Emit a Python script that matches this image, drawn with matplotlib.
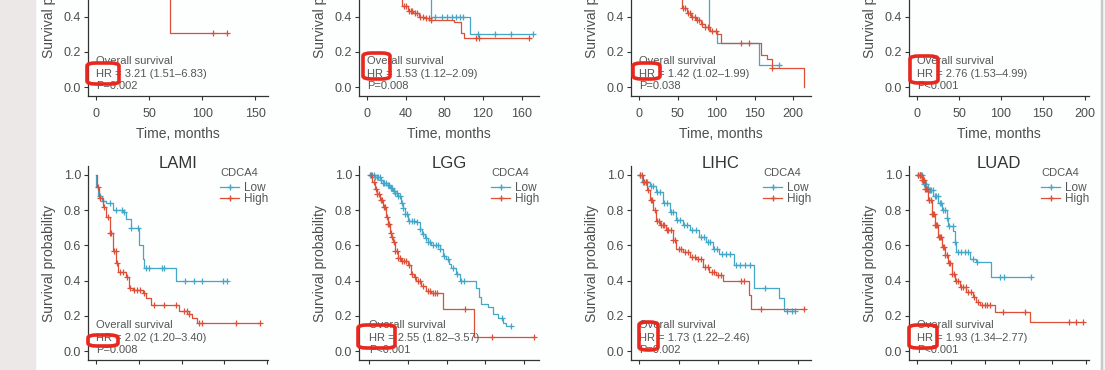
import numpy as np
import matplotlib
matplotlib.use("Agg")
import matplotlib.pyplot as plt
from matplotlib.patches import FancyBboxPatch, Rectangle

plt.rcParams['font.family'] = ['Liberation Sans', 'DejaVu Sans']

# ---- data (months, survival probability) ----
top1_low_t = [0, 20, 45]
top1_low_s = [1.0, 0.85, 0.7]
top1_low_end = 150
top1_low_cens = [60, 90, 150]
top1_high_t = [0, 8, 15, 25, 35, 50, 70]
top1_high_s = [1.0, 0.9, 0.8, 0.7, 0.62, 0.55, 0.31]
top1_high_end = 123
top1_high_cens = [110, 123]

top2_low_t = [0, 15, 30, 45, 60, 66, 107]
top2_low_s = [1.0, 0.9, 0.8, 0.7, 0.6, 0.40, 0.30]
top2_low_end = 172
top2_low_cens = [70, 78, 83, 88, 92, 96, 99, 115, 132, 149, 172]
top2_high_t = [0, 10, 20, 30, 36, 42, 48, 54, 60, 66, 90, 97, 100]
top2_high_s = [1.0, 0.85, 0.7, 0.55, 0.46, 0.43, 0.42, 0.40, 0.39, 0.38, 0.37, 0.305, 0.28]
top2_high_end = 170
top2_high_cens = [32, 35, 38, 40, 43, 45, 47, 50, 52, 55, 58, 61, 64, 66, 113, 116, 168]

top3_low_t = [0, 20, 40, 60, 80, 91, 101, 156]
top3_low_s = [1.0, 0.9, 0.8, 0.7, 0.6, 0.32, 0.25, 0.125]
top3_low_end = 184
top3_low_cens = [181]
top3_high_t = [0, 15, 30, 45, 56, 62, 68, 74, 80, 86, 92, 101, 106, 158, 166, 173, 214]
top3_high_s = [1.0, 0.85, 0.7, 0.55, 0.45, 0.42, 0.40, 0.38, 0.36, 0.34, 0.32, 0.30, 0.25, 0.18, 0.16, 0.11, 0.0]
top3_high_end = 214
top3_high_cens = [57, 60, 63, 66, 69, 72, 75, 78, 82, 86, 90, 95, 100, 132, 142, 173]

top4_low_t = [0, 30, 80]
top4_low_s = [1.0, 0.9, 0.8]
top4_low_end = 195
top4_low_cens = [100, 150, 195]
top4_high_t = [0, 10, 20, 30, 45]
top4_high_s = [1.0, 0.85, 0.7, 0.6, 0.55]
top4_high_end = 110
top4_high_cens = [40, 80, 110]

lami_low_t = [0, 0.3, 1.5, 3.3, 6.2, 10, 15.8, 17.7, 20.6, 25.4, 27.3, 28.3, 46.5]
lami_low_s = [1.0, 0.93, 0.88, 0.85, 0.84, 0.80, 0.79, 0.75, 0.70, 0.60, 0.52, 0.47, 0.40]
lami_low_end = 76.3
lami_low_cens = [2.3, 4.2, 8.1, 11.9, 15.4, 16.7, 20.6, 24.4, 29.2, 31.2, 38.8, 39.8,
                 52.3, 57.1, 61.9, 74.4, 76.3]
lami_high_t = [0, 0.5, 1.7, 4, 6.2, 8.1, 10, 11.9, 12.9, 17.7, 19.6, 21.5, 27.3, 29.2,
               32.1, 48.5, 54.2, 56.2, 59]
lami_high_s = [1.0, 0.93, 0.87, 0.82, 0.76, 0.67, 0.57, 0.50, 0.45, 0.42, 0.36, 0.345,
               0.33, 0.30, 0.26, 0.23, 0.21, 0.19, 0.16]
lami_high_end = 95.6
lami_high_cens = [1, 2.5, 5, 7, 8.5, 9, 10.5, 11.5, 12.5, 14, 16, 18, 20, 22, 24, 26, 28,
                  34, 39.8, 46.5, 51.3, 53.3, 54.2, 60, 62, 82, 95.6]

lgg_low_t = [0, 8, 14.1, 18, 22.6, 27, 31.2, 34, 37.6, 41.9, 44, 46.2, 50.4, 61.1, 65.4,
             68, 71.8, 76, 80.3, 91, 95.3, 99.6, 103, 106, 112.4, 116.7, 138, 142.3,
             144.4, 153, 159.4, 165.8, 172.2, 176.5]
lgg_low_s = [1.0, 0.985, 0.97, 0.955, 0.94, 0.925, 0.91, 0.895, 0.88, 0.84, 0.81, 0.78,
             0.74, 0.73, 0.69, 0.665, 0.64, 0.62, 0.60, 0.58, 0.54, 0.52, 0.495, 0.47,
             0.44, 0.40, 0.36, 0.31, 0.27, 0.25, 0.21, 0.19, 0.16, 0.14]
lgg_low_end = 182.9
lgg_low_cens = [2, 4, 6, 8, 10, 12, 14, 16, 18, 20, 22, 24, 26, 28, 30, 32, 34, 36, 38, 40,
                42, 44, 47, 49, 52, 55, 58, 62, 66, 69, 73, 76, 79, 83, 86, 89, 92, 97,
                102, 108, 114, 119, 123, 171, 183]
lgg_high_t = [0, 4, 7.7, 11, 14.1, 18.4, 22.6, 24.8, 26.9, 29, 31.2, 33.3, 37.6, 41.9,
              50.4, 54.7, 58, 61.1, 67.5, 73.9, 80.3, 95.3, 135]
lgg_high_s = [1.0, 0.96, 0.92, 0.89, 0.86, 0.82, 0.76, 0.72, 0.67, 0.645, 0.62, 0.57,
              0.53, 0.51, 0.49, 0.44, 0.42, 0.40, 0.37, 0.34, 0.33, 0.24, 0.08]
lgg_high_end = 212.8
lgg_high_cens = [3, 6, 9, 11, 13, 16, 17, 20, 21, 23, 25, 26, 28, 30, 32, 34, 36, 38, 40,
                 43, 45, 48, 52, 56, 59, 63, 66, 70, 76, 79, 82, 85, 88, 124, 159, 212.8]

lihc_low_t = [0, 2, 8.25, 13.25, 18.25, 23.25, 28.25, 33.25, 38.25, 45.75, 50.75, 55.75,
              60.75, 72, 87, 105.75, 109.5]
lihc_low_s = [1.0, 0.96, 0.935, 0.90, 0.84, 0.79, 0.745, 0.715, 0.685, 0.65, 0.62, 0.58,
              0.55, 0.49, 0.36, 0.30, 0.23]
lihc_low_end = 118.25
lihc_low_cens = [1, 3, 5, 6, 9, 11, 14, 16, 19, 21, 24, 26, 29, 31, 34, 36, 40, 43, 47, 49,
                 52, 54, 57, 59, 63, 66, 69, 73, 76, 80, 84, 95, 112, 116, 118.25]
lihc_high_t = [0, 3.25, 5.75, 8.25, 10.75, 13.25, 15.75, 20.75, 25.75, 28.25, 33.25,
               38.25, 43.25, 48.25, 53.25, 58.25, 63.25, 83.25, 84.5]
lihc_high_s = [1.0, 0.96, 0.915, 0.86, 0.80, 0.74, 0.715, 0.685, 0.63, 0.58, 0.565, 0.535,
               0.52, 0.48, 0.45, 0.43, 0.40, 0.32, 0.24]
lihc_high_end = 124.5
lihc_high_cens = [1, 2, 4, 5, 7, 9, 10, 12, 14, 15, 17, 18, 19, 21, 22, 24, 26, 27, 30,
                  32, 35, 37, 40, 42, 45, 47, 50, 52, 55, 57, 60, 62, 77, 79.5, 92, 124.5]

luad_low_t = [0, 9.3, 16.7, 24, 31.4, 36.3, 43.6, 46.1, 53.4, 55.9, 58.3, 77.9, 87.7, 109.8]
luad_low_s = [1.0, 0.95, 0.915, 0.88, 0.84, 0.80, 0.755, 0.71, 0.68, 0.62, 0.565, 0.52,
              0.505, 0.42]
luad_low_end = 168.6
luad_low_cens = [2, 4, 6, 8, 10, 12, 14, 17, 19, 21, 23, 26, 28, 31, 34, 36, 38, 41, 45,
                 48, 53, 56, 60.8, 65.7, 70.6, 75.5, 83, 88, 122, 129, 168.6]
luad_high_t = [0, 6.9, 11.8, 16.7, 21.6, 26.5, 31.4, 36.3, 41.2, 46.1, 51, 55.9, 63.2, 73,
               82.8, 87.7, 92.6, 114.7, 166.2]
luad_high_s = [1.0, 0.97, 0.92, 0.86, 0.78, 0.715, 0.65, 0.59, 0.545, 0.50, 0.44, 0.40,
               0.365, 0.335, 0.31, 0.28, 0.26, 0.22, 0.165]
luad_high_end = 244.6
luad_high_cens = [2, 4, 5, 7, 9, 10, 12, 13, 15, 17, 18, 20, 22, 23, 25, 27, 28, 30, 32,
                  34, 36, 38, 40, 42, 44, 47, 49, 52, 55, 58, 61, 65, 68, 72, 76, 80, 84,
                  90, 96, 100, 104, 108, 127, 159, 225, 235, 244.6]

titles = ["", "", "", "", "LAMI", "LGG", "LIHC", "LUAD"]
hr_texts = ["HR = 3.21 (1.51\u20136.83)", "HR = 1.53 (1.12\u20132.09)",
            "HR = 1.42 (1.02\u20131.99)", "HR = 2.76 (1.53\u20134.99)",
            "HR = 2.02 (1.20\u20133.40)", "HR = 2.55 (1.82\u20133.57)",
            "HR = 1.73 (1.22\u20132.46)", "HR = 1.93 (1.34\u20132.77)"]
p_texts = ["P=0.002", "P=0.008", "P=0.038", "P<0.001",
           "P=0.008", "P<0.001", "P=0.002", "P<0.001"]
xticks = [[0, 50, 100, 150], [0, 40, 80, 120, 160], [0, 50, 100, 150, 200],
          [0, 50, 100, 150, 200], [0, 25, 50, 75, 100], [0, 50, 100, 150, 200],
          [0, 30, 60, 90, 120], [0, 50, 100, 150, 200, 250]]
xlims = [(-7.6, 162), (-8.4, 178), (-10.4, 223), (-9.6, 205),
         (-4.6, 100.5), (-12.8, 219), (-6, 130), (-11.8, 254)]

low_curves = [
    (top1_low_t, top1_low_s, top1_low_end, top1_low_cens),
    (top2_low_t, top2_low_s, top2_low_end, top2_low_cens),
    (top3_low_t, top3_low_s, top3_low_end, top3_low_cens),
    (top4_low_t, top4_low_s, top4_low_end, top4_low_cens),
    (lami_low_t, lami_low_s, lami_low_end, lami_low_cens),
    (lgg_low_t, lgg_low_s, lgg_low_end, lgg_low_cens),
    (lihc_low_t, lihc_low_s, lihc_low_end, lihc_low_cens),
    (luad_low_t, luad_low_s, luad_low_end, luad_low_cens),
]
high_curves = [
    (top1_high_t, top1_high_s, top1_high_end, top1_high_cens),
    (top2_high_t, top2_high_s, top2_high_end, top2_high_cens),
    (top3_high_t, top3_high_s, top3_high_end, top3_high_cens),
    (top4_high_t, top4_high_s, top4_high_end, top4_high_cens),
    (lami_high_t, lami_high_s, lami_high_end, lami_high_cens),
    (lgg_high_t, lgg_high_s, lgg_high_end, lgg_high_cens),
    (lihc_high_t, lihc_high_s, lihc_high_end, lihc_high_cens),
    (luad_high_t, luad_high_s, luad_high_end, luad_high_cens),
]

# red highlight boxes around "HR" (pixel boxes from the screenshot: x0, y0, x1, y1)
hr_boxes = [(87, 63, 119, 84), (363, 53, 390, 79), (633, 63, 660, 79), (910, 56, 938, 83),
            (88, 335, 118, 346), (358, 325, 395, 348), (639, 322, 658, 350),
            (909, 325, 937, 348)]

BLUE = "#45a7c8"
RED = "#dd4f37"
TXT = "#555555"
W, H = 1105, 370


def draw_km(ax, curve, color, label):
    t, s, end, cens = curve
    t = np.array(t, float)
    s = np.array(s, float)
    x = np.append(t, end)
    y = np.append(s, s[-1])
    ax.step(x, y, where="post", color=color, lw=0.9, label=label)
    c = np.array(cens, float)
    idx = np.searchsorted(t, c, side="right") - 1
    ax.plot(c, s[idx], ls="none", marker="+", ms=5, mew=0.9, color=color)


fig = plt.figure(figsize=(W / 100, H / 100), dpi=100, facecolor="#fdfefe")
fig.patches.append(Rectangle((0, 0), 35 / W, 1, transform=fig.transFigure,
                             color="#ebe8e7", zorder=0))
fig.patches.append(Rectangle((1101 / W, 0), 4 / W, 1, transform=fig.transFigure,
                             color="#f4f4f4", zorder=0))
fig.patches.append(Rectangle((1100.5 / W, 0), 1.2 / W, 1, transform=fig.transFigure,
                             color="#c8c8c8", zorder=0))

lefts = [88, 359, 631, 909]
for i in range(8):
    row = i // 4
    bottom_px = 96 if row == 0 else 360
    ax = fig.add_axes([lefts[i % 4] / W, (H - bottom_px) / H, 180 / W, 194 / H])
    ax.set_facecolor("none")
    draw_km(ax, low_curves[i], BLUE, "Low")
    draw_km(ax, high_curves[i], RED, "High")
    ax.set_xlim(*xlims[i])
    ax.set_ylim(-0.05, 1.05)
    ax.set_xticks(xticks[i])
    ax.set_yticks([0.0, 0.2, 0.4, 0.6, 0.8, 1.0])
    ax.set_yticklabels(["0.0", "0.2", "0.4", "0.6", "0.8", "1.0"])
    for side in ["top", "right"]:
        ax.spines[side].set_visible(False)
    for side in ["left", "bottom"]:
        ax.spines[side].set_color("#333333")
        ax.spines[side].set_linewidth(0.9)
    ax.tick_params(direction="out", length=3, width=0.8, colors="#333333",
                   labelcolor="#4d4d4d", labelsize=9)
    ax.tick_params(axis="x", pad=5.5)
    ax.tick_params(axis="y", pad=2)
    ax.set_ylabel("Survival probability", fontsize=10, color="#4d4d4d", labelpad=5.5)
    ax.set_xlabel("Time, months", fontsize=10, color="#4d4d4d", labelpad=5.5)
    ax.text(0, 0.147, "Overall survival", fontsize=8, color=TXT, va="center", ha="left")
    ax.text(0, 0.073, hr_texts[i], fontsize=8, color=TXT, va="center", ha="left")
    ax.text(0, 0.005, p_texts[i], fontsize=8, color=TXT, va="center", ha="left")
    if titles[i]:
        ax.text(0.5, 1.015, titles[i], transform=ax.transAxes, fontsize=12,
                color="#333333", ha="center", va="center")
    leg = ax.legend(title="CDCA4", loc="upper left", bbox_to_anchor=(0.735, 0.99),
                    frameon=False, fontsize=8.5, title_fontsize=8, handlelength=1.6,
                    handletextpad=0.4, labelspacing=-0.1, borderpad=0, borderaxespad=0,
                    alignment="left")
    leg._legend_box.sep = 3
    for txt in leg.get_texts():
        txt.set_color(TXT)
    leg.get_title().set_color(TXT)
    for hl in leg.get_lines():
        hl.set_marker("+")
        hl.set_markersize(5)
        hl.set_markevery([1])

for x0, y0, x1, y1 in hr_boxes:
    fig.patches.append(FancyBboxPatch((x0 / W, (H - y1) / H), (x1 - x0) / W, (y1 - y0) / H,
                                      boxstyle="round,pad=0,rounding_size=0.008",
                                      transform=fig.transFigure, fill=False,
                                      edgecolor="#e8281e", lw=2.6, zorder=10))

fig.savefig("out.png", dpi=100, facecolor=fig.get_facecolor())
